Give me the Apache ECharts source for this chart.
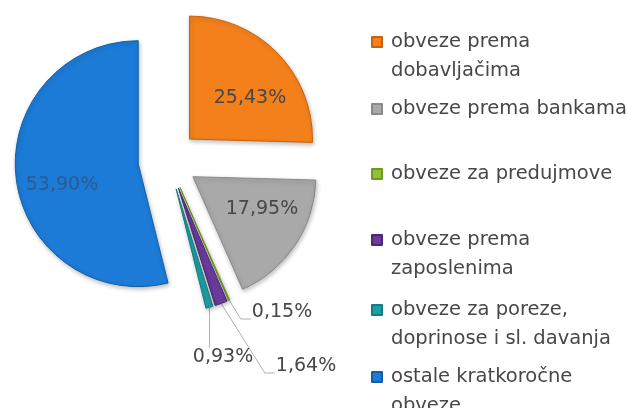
<!DOCTYPE html>
<html>
<head>
    <meta charset="utf-8">
    <title>Obveze</title>
    <script src="https://cdn.jsdelivr.net/npm/echarts@6/dist/echarts.min.js"></script>
    <style>
        html, body { margin: 0; padding: 0; background: #ffffff; }
    </style>
</head>
<body>
<div id="main" style="width: 627px;height:408px;"></div>

<script type="text/javascript">
    // podaci
    var names = [
        'obveze prema\ndobavljačima',
        'obveze prema bankama',
        'obveze za predujmove',
        'obveze prema\nzaposlenima',
        'obveze za poreze,\ndoprinose i sl. davanja',
        'ostale kratkoročne\nobveze'
    ];
    var values = [25.43, 17.95, 0.15, 1.64, 0.93, 53.90];
    var colors = ['#f3801b', '#a9a9a9', '#92c03a', '#6a3b9c', '#1e9ea3', '#1b7bd6'];
    var borders = ['#c8620a', '#8a8a8a', '#6f9a22', '#4e2878', '#137c80', '#125fa8'];

    // raspored oznaka i legende
    var labelPos = [[250, 98], [262, 209], [282, 312], [306, 366], [223, 357], [62, 185]];
    var insideLabel = [true, true, false, false, false, true];
    var legendTop = [42, 109, 174, 240, 310, 377];

    var pieCenter = [168, 160];
    var pieRadius = 123;
    var explode = 30;

    var fontFam = 'DejaVu Sans';
    var textCol = '#474747';

    var total = values.reduce(function (a, b) { return a + b; }, 0);

    // smjer sredine isječka (početak na 12 sati, u smjeru kazaljke)
    function midDir(i) {
        var before = 0;
        for (var j = 0; j < i; j++) before += values[j];
        var a = (before + values[i] / 2) / total * 2 * Math.PI;
        return [Math.sin(a), -Math.cos(a)];
    }

    var myChart = echarts.init(document.getElementById('main'));

    var pieData = values.map(function (v, i) {
        return {
            name: names[i],
            value: v,
            selected: true,
            itemStyle: { color: colors[i], borderColor: borders[i] },
            label: {
                position: insideLabel[i] ? 'inside' : 'outside',
                color: i === 5 ? '#2e5a92' : textCol
            },
            labelLine: { show: !insideLabel[i] }
        };
    });

    var legends = names.map(function (n, i) {
        var twoLines = n.indexOf('\n') >= 0;
        return {
            data: [n],
            orient: 'vertical',
            left: 371,
            top: legendTop[i] - (twoLines ? 43.5 : 14.5),
            padding: 0,
            icon: 'rect',
            itemWidth: 10,
            itemHeight: 10,
            selectedMode: false,
            formatter: function (name) {
                return name.indexOf('\n') >= 0 ? '\n' + name : name;
            },
            textStyle: {
                fontFamily: fontFam,
                fontSize: 19.5,
                lineHeight: 29,
                color: textCol,
                padding: [0, 0, 0, 4]
            }
        };
    });

    var option = {
        backgroundColor: '#ffffff',
        animation: false,
        legend: legends,
        series: [
            {
                type: 'pie',
                center: pieCenter,
                radius: pieRadius,
                startAngle: 90,
                clockwise: true,
                avoidLabelOverlap: false,
                selectedMode: 'multiple',
                selectedOffset: explode,
                itemStyle: {
                    borderWidth: 1,
                    shadowBlur: 4,
                    shadowOffsetX: 1,
                    shadowOffsetY: 2,
                    shadowColor: 'rgba(0, 0, 0, 0.25)'
                },
                label: {
                    fontFamily: fontFam,
                    fontSize: 19,
                    formatter: function (p) {
                        return p.value.toFixed(2).replace('.', ',') + '%';
                    }
                },
                labelLine: {
                    length: 10,
                    length2: 10,
                    lineStyle: { color: '#b0b0b0', width: 1 }
                },
                labelLayout: function (p) {
                    var i = p.dataIndex;
                    var d = midDir(i);
                    var off = [d[0] * explode, d[1] * explode];
                    var pos = labelPos[i];
                    var r = p.labelRect;
                    var res = {
                        dx: pos[0] - (r.x + r.width / 2) - off[0],
                        dy: pos[1] - (r.y + r.height / 2) - off[1]
                    };
                    if (!insideLabel[i]) {
                        // vodilica u lokalnim koordinatama isječka
                        var tip = [pieCenter[0] + pieRadius * d[0], pieCenter[1] + pieRadius * d[1]];
                        var left = pos[0] - r.width / 2 - off[0];
                        var top = pos[1] - r.height / 2 - off[1];
                        var base = pos[1] + 7 - off[1];
                        if (tip[0] > left) {
                            res.labelLinePoints = [tip, [tip[0], top], [tip[0], top]];
                        } else {
                            res.labelLinePoints = [tip, [left - 11, base], [left - 1, base]];
                        }
                    }
                    return res;
                },
                emphasis: { disabled: true },
                data: pieData
            }
        ]
    };

    myChart.setOption(option);
</script>
</body>
</html>
